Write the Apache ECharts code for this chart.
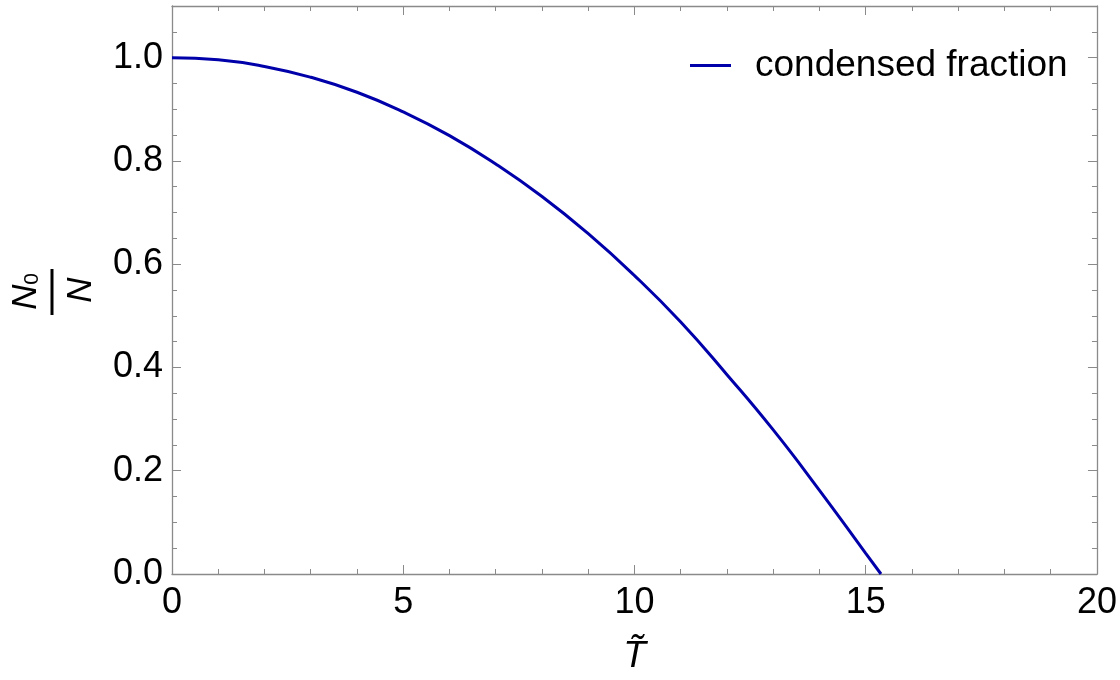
<!DOCTYPE html>
<html>
<head>
<meta charset="utf-8">
<script src="https://cdn.jsdelivr.net/npm/echarts@6/dist/echarts.min.js"></script>
<style>
html,body{margin:0;padding:0;background:#fff;}
#chart{width:1120px;height:680px;}
</style>
</head>
<body>
<div id="chart"></div>
<script>
// Data
const temperatures = [0, 1, 2, 3, 4, 5, 6, 7, 8, 9, 10, 11, 12, 13, 14, 15, 15.33];
const condensedFraction = [1.000, 0.996, 0.983, 0.962, 0.933, 0.895, 0.849, 0.794, 0.731, 0.659, 0.578, 0.488, 0.386, 0.279, 0.162, 0.040, 0.0];
const seriesName = 'condensed fraction';
const xTickLabels = ['0', '5', '10', '15', '20'];

const FONT = 'Liberation Sans, Arial, sans-serif';
const AXIS_COLOR = '#8a8a8a';
const LINE_COLOR = '#0000aa';

const points = temperatures.map((t, i) => [t, condensedFraction[i]]);

const chart = echarts.init(document.getElementById('chart'), null, {renderer: 'canvas'});

const baseY = {
  type: 'value', min: 0, max: 1.1,
  splitLine: {show: false},
  axisLine: {show: false, onZero: false},
  axisLabel: {show: false},
  axisTick: {show: true, inside: true, lineStyle: {color: AXIS_COLOR, width: 1}}
};

const option = {
  animation: false,
  backgroundColor: '#ffffff',
  grid: {left: 172, right: 23, top: 6, bottom: 102, containLabel: false},
  legend: {
    left: 690, top: 47, padding: 0,
    itemWidth: 41, itemHeight: 3,
    icon: 'rect',
    data: [{name: seriesName, icon: 'rect', itemStyle: {color: LINE_COLOR}}],
    textStyle: {fontFamily: FONT, fontSize: 37, color: '#000', padding: [0, 0, 0, 19]}
  },
  xAxis: [
    {
      type: 'value', position: 'bottom', min: 0, max: 20, interval: 5,
      splitLine: {show: false},
      axisLine: {show: true, onZero: false, lineStyle: {color: AXIS_COLOR, width: 1.3}},
      axisTick: {show: true, inside: true, length: 9, lineStyle: {color: AXIS_COLOR, width: 1}},
      minorTick: {show: true, splitNumber: 5, length: 5, lineStyle: {color: AXIS_COLOR, width: 1}},
      axisLabel: {
        show: true, margin: 11, fontFamily: FONT, fontSize: 36, color: '#000',
        formatter: v => xTickLabels[Math.round(v / 5)] ?? ''
      },
      name: 'T\u0303', nameLocation: 'middle', nameGap: 64,
      nameTextStyle: {fontFamily: FONT, fontSize: 37, fontStyle: 'italic', color: '#000'}
    },
    {
      type: 'value', position: 'top', min: 0, max: 20, interval: 5,
      splitLine: {show: false},
      axisLine: {show: true, onZero: false, lineStyle: {color: AXIS_COLOR, width: 1.3}},
      axisTick: {show: true, inside: true, length: 9, lineStyle: {color: AXIS_COLOR, width: 1}},
      minorTick: {show: true, splitNumber: 5, length: 5, lineStyle: {color: AXIS_COLOR, width: 1}},
      axisLabel: {show: false}
    }
  ],
  yAxis: [
    Object.assign({}, baseY, {
      position: 'left', interval: 0.2,
      axisLine: {show: true, onZero: false, lineStyle: {color: AXIS_COLOR, width: 1.3}},
      axisTick: {show: true, inside: true, length: 9, lineStyle: {color: AXIS_COLOR, width: 1}},
      axisLabel: {
        show: true, margin: 9, fontFamily: FONT, fontSize: 36, color: '#000',
        formatter: v => (v > 1.05 ? '' : v.toFixed(1))
      }
    }),
    Object.assign({}, baseY, {
      position: 'left', interval: 0.05,
      axisTick: {show: true, inside: true, length: 5, lineStyle: {color: AXIS_COLOR, width: 1}}
    }),
    Object.assign({}, baseY, {
      position: 'right', interval: 0.2,
      axisLine: {show: true, onZero: false, lineStyle: {color: AXIS_COLOR, width: 1.3}},
      axisTick: {show: true, inside: true, length: 9, lineStyle: {color: AXIS_COLOR, width: 1}}
    }),
    Object.assign({}, baseY, {
      position: 'right', interval: 0.05,
      axisTick: {show: true, inside: true, length: 5, lineStyle: {color: AXIS_COLOR, width: 1}}
    })
  ],
  graphic: [
    {
      type: 'group', x: 52, y: 292, rotation: Math.PI / 2,
      children: [
        {type: 'text', x: -5, y: -26, style: {text: 'N', font: 'italic 35px ' + FONT, fill: '#000', align: 'center', verticalAlign: 'middle'}},
        {type: 'text', x: 13, y: -20, style: {text: '0', font: '21px ' + FONT, fill: '#000', align: 'center', verticalAlign: 'middle'}},
        {type: 'line', shape: {x1: -23, y1: 0, x2: 23, y2: 0}, style: {stroke: '#000', lineWidth: 3}},
        {type: 'text', x: 2, y: 29, style: {text: 'N', font: 'italic 35px ' + FONT, fill: '#000', align: 'center', verticalAlign: 'middle'}}
      ]
    }
  ],
  series: [
    {
      name: seriesName, type: 'line', xAxisIndex: 0, yAxisIndex: 0,
      data: points, symbol: 'none', smooth: true,
      lineStyle: {color: LINE_COLOR, width: 3},
      itemStyle: {color: LINE_COLOR}
    }
  ]
};

chart.setOption(option);
</script>
</body>
</html>
